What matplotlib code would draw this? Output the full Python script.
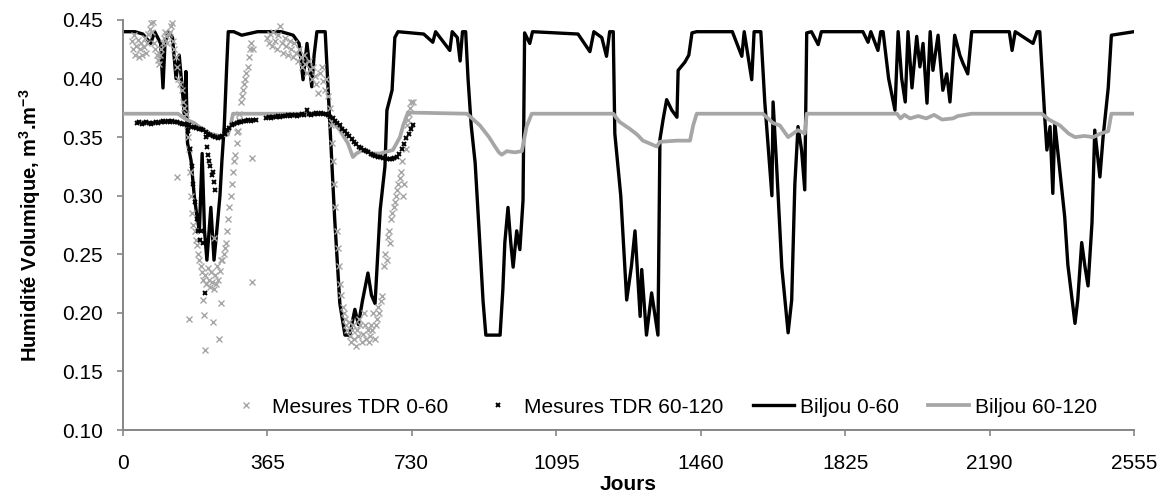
import numpy as np
import matplotlib
matplotlib.use("Agg")
import matplotlib.pyplot as plt

plt.rcParams["font.family"] = ["Liberation Sans", "DejaVu Sans"]
plt.rcParams["mathtext.fontset"] = "custom"
plt.rcParams["mathtext.rm"] = "Liberation Sans"
plt.rcParams["mathtext.bf"] = "Liberation Sans:bold"

# ── Data (day, value) ────────────────────────────────────────────────────────
biljou_0_60 = [
    (0, .44), (30, .44), (50, .438), (70, .43), (80, .44), (95, .43), (101, .392),
    (106, .43), (114, .44), (125, .435), (134, .40), (142, .42), (150, .39),
    (155, .37), (159, .406), (163, .345), (172, .33), (180, .30), (187, .282),
    (193, .27), (200, .336), (206, .27), (212, .245), (222, .29), (230, .245),
    (237, .27), (245, .30), (250, .33), (256, .36), (262, .41), (266, .44),
    (280, .44), (300, .437), (340, .44), (400, .44), (430, .437), (445, .43),
    (455, .399), (465, .43), (477, .393), (483, .42), (490, .44), (511, .44),
    (523, .36), (535, .28), (548, .208), (561, .181), (573, .181), (586, .203),
    (595, .19), (605, .21), (619, .234), (628, .215), (637, .208), (650, .288),
    (662, .325), (667, .373), (680, .39), (687, .435), (695, .44), (760, .438),
    (783, .431), (790, .44), (826, .424), (832, .44), (845, .435), (852, .415),
    (858, .44), (866, .44), (872, .40), (880, .36), (890, .328), (900, .27),
    (910, .21), (917, .181), (953, .181), (960, .22), (965, .26), (973, .29),
    (980, .26), (986, .239), (995, .27), (1003, .254), (1011, .296), (1015, .439),
    (1028, .43), (1035, .44), (1150, .438), (1180, .423), (1190, .44),
    (1210, .435), (1222, .419), (1230, .44), (1239, .44), (1243, .353),
    (1258, .30), (1273, .211), (1285, .24), (1294, .27), (1307, .197),
    (1311, .237), (1323, .181), (1336, .217), (1352, .181), (1357, .348),
    (1365, .365), (1374, .382), (1387, .373), (1400, .367), (1403, .407),
    (1420, .414), (1430, .42), (1438, .439), (1450, .44), (1540, .44),
    (1564, .419), (1570, .44), (1589, .399), (1595, .44), (1612, .44),
    (1622, .38), (1640, .30), (1643, .38), (1652, .325), (1665, .239),
    (1681, .183), (1690, .211), (1698, .31), (1706, .359), (1715, .339),
    (1723, .305), (1728, .439), (1740, .44), (1757, .429), (1765, .44),
    (1870, .44), (1883, .431), (1890, .44), (1908, .424), (1915, .44),
    (1921, .44), (1935, .40), (1951, .373), (1959, .44), (1968, .40),
    (1977, .38), (1984, .44), (1994, .392), (2006, .436), (2014, .41),
    (2022, .43), (2032, .379), (2040, .44), (2047, .407), (2060, .437),
    (2072, .39), (2082, .404), (2090, .38), (2102, .437), (2115, .42),
    (2123, .413), (2135, .404), (2145, .44), (2240, .44), (2247, .424),
    (2255, .44), (2300, .43), (2310, .44), (2317, .44), (2330, .365),
    (2335, .339), (2343, .359), (2350, .302), (2355, .362), (2368, .32),
    (2380, .282), (2388, .241), (2406, .191), (2413, .211), (2423, .26),
    (2431, .24), (2439, .223), (2449, .277), (2456, .356), (2469, .316),
    (2477, .35), (2490, .392), (2498, .437), (2555, .44),
]

biljou_60_120 = [
    (0, .37), (139, .37), (160, .365), (180, .362), (200, .357), (220, .353),
    (245, .351), (265, .352), (272, .36), (278, .37), (515, .37), (530, .363),
    (548, .356), (568, .345), (581, .333), (590, .336), (606, .339), (630, .336),
    (649, .336), (682, .339), (700, .35), (708, .36), (720, .371), (869, .37),
    (902, .36), (925, .35), (940, .342), (950, .337), (957, .335), (970, .338),
    (990, .337), (1008, .338), (1020, .359), (1033, .37), (1239, .37),
    (1255, .363), (1281, .357), (1300, .352), (1314, .347), (1349, .342),
    (1357, .346), (1400, .347), (1433, .347), (1441, .36), (1450, .37),
    (1617, .37), (1643, .362), (1660, .36), (1681, .35), (1706, .356),
    (1723, .353), (1728, .37), (1956, .37), (1965, .366), (1975, .369),
    (1989, .366), (2010, .368), (2030, .366), (2050, .369), (2070, .365),
    (2098, .366), (2110, .368), (2145, .37), (2322, .37), (2340, .365),
    (2368, .36), (2390, .353), (2406, .35), (2430, .351), (2452, .35),
    (2470, .353), (2490, .355), (2498, .37), (2555, .37),
]

tdr_0_60 = [
    (22, .432), (25, .425), (28, .437), (31, .42), (34, .428), (37, .433),
    (40, .418), (43, .425), (46, .43), (49, .42), (52, .427), (55, .435),
    (58, .422), (61, .43), (64, .438), (67, .442), (70, .447), (73, .44),
    (76, .448), (79, .43), (82, .425), (85, .42), (88, .416), (91, .412),
    (94, .42), (97, .425), (100, .43), (103, .435), (106, .44), (109, .436),
    (112, .43), (115, .438), (118, .44), (121, .445), (124, .447), (127, .432),
    (130, .425), (133, .418), (136, .316), (136, .41), (140, .40), (144, .395),
    (148, .39), (152, .38), (155, .375), (158, .37), (161, .36), (164, .35),
    (166, .34), (167, .195), (169, .32), (172, .30), (175, .285), (178, .275),
    (181, .27), (184, .262), (187, .258), (190, .25), (193, .245), (196, .24),
    (199, .235), (202, .228), (203, .211), (205, .198), (207, .168), (208, .232),
    (211, .225), (214, .238), (217, .228), (220, .222), (223, .235), (226, .226),
    (227, .192), (229, .22), (230, .264), (232, .232), (235, .225), (238, .24),
    (241, .228), (243, .178), (244, .236), (247, .208), (248, .245), (251, .245),
    (254, .25), (257, .255), (260, .26), (263, .27), (266, .28), (269, .29),
    (272, .30), (275, .31), (278, .32), (281, .33), (284, .335), (287, .345),
    (288, .354), (290, .355), (292, .365), (294, .37), (297, .38), (300, .385),
    (303, .39), (306, .395), (309, .40), (312, .405), (315, .41), (318, .418),
    (321, .425), (324, .43), (325, .332), (327, .226), (328, .425),
    (365, .435), (368, .43), (372, .438), (376, .428), (380, .44), (384, .432),
    (388, .425), (392, .437), (397, .445), (401, .43), (405, .422), (409, .435),
    (413, .428), (417, .42), (421, .432), (425, .425), (429, .418), (433, .43),
    (437, .422), (441, .415), (445, .425), (449, .418), (453, .41), (457, .42),
    (461, .412), (465, .405), (469, .415), (473, .408), (477, .40), (481, .41),
    (485, .402), (489, .395), (494, .388), (498, .405), (502, .41), (506, .398),
    (510, .39), (514, .40), (518, .385), (522, .375), (525, .36), (528, .345),
    (531, .33), (534, .31), (537, .29), (540, .27), (543, .255), (546, .24),
    (549, .225), (552, .215), (555, .205), (558, .20), (561, .195), (564, .19),
    (567, .185), (570, .192), (573, .18), (576, .175), (579, .185), (582, .19),
    (585, .178), (588, .172), (591, .185), (594, .18), (597, .195), (600, .19),
    (603, .175), (606, .182), (609, .20), (612, .19), (615, .178), (618, .185),
    (621, .175), (624, .18), (627, .19), (630, .185), (633, .20), (636, .178),
    (639, .19), (642, .195), (645, .205), (648, .20), (651, .21), (655, .214),
    (660, .24), (663, .25), (666, .245), (669, .265), (672, .27), (675, .26),
    (678, .28), (681, .285), (684, .29), (687, .295), (690, .30), (693, .305),
    (696, .31), (699, .315), (702, .32), (705, .33), (708, .30), (711, .31),
    (714, .34), (717, .36), (720, .365), (723, .37), (726, .375), (729, .38),
    (732, .38),
]

tdr_60_120 = [
    (35, .362), (41, .363), (47, .361), (53, .362), (59, .363), (65, .362),
    (71, .361), (77, .362), (83, .363), (89, .362), (95, .363), (101, .364),
    (107, .363), (113, .364), (119, .363), (125, .364), (131, .363), (137, .363),
    (143, .362), (149, .361), (155, .361), (161, .360), (167, .360), (173, .359),
    (179, .359), (185, .358), (191, .357), (197, .357), (203, .356), (209, .354),
    (215, .353), (221, .352), (227, .351), (233, .350), (239, .349), (245, .350),
    (251, .351), (257, .353), (263, .356), (269, .358), (275, .360), (281, .361),
    (287, .362), (293, .363), (299, .363), (305, .364), (311, .364), (317, .365),
    (323, .364), (329, .365), (335, .365),
    (165, .355), (170, .34), (174, .325), (178, .31), (182, .295), (186, .28),
    (190, .27), (194, .262), (198, .27), (202, .26), (207, .217), (210, .35),
    (212, .342), (215, .335), (218, .33), (221, .325), (224, .318), (227, .32),
    (230, .312), (233, .305),
    (362, .366), (368, .367), (374, .366), (380, .367), (386, .367), (392, .368),
    (398, .367), (404, .368), (410, .368), (416, .369), (422, .368), (428, .369),
    (434, .369), (440, .368), (446, .369), (452, .37), (458, .369), (465, .373),
    (470, .37), (476, .369), (482, .37), (488, .371), (494, .37), (500, .371),
    (506, .37), (512, .37), (518, .369), (524, .367), (530, .366), (536, .364),
    (542, .362), (548, .36), (554, .357), (560, .355), (566, .353), (572, .351),
    (578, .348), (584, .346), (590, .344), (596, .342), (602, .341), (608, .339),
    (614, .338), (620, .337), (626, .336), (632, .335), (638, .334), (644, .333),
    (650, .333), (656, .332), (662, .332), (668, .331), (674, .331), (680, .331),
    (686, .332), (692, .333), (698, .336), (704, .34), (710, .344), (716, .349),
    (722, .353), (728, .357), (733, .36),
]

xticks = [0, 365, 730, 1095, 1460, 1825, 2190, 2555]
yticks = [0.10, 0.15, 0.20, 0.25, 0.30, 0.35, 0.40, 0.45]

GRAY = "#a6a6a6"
AXC = "#868686"

b1 = np.array(biljou_0_60)
b2 = np.array(biljou_60_120)
t1 = np.array(tdr_0_60)
t2 = np.array(tdr_60_120)

fig = plt.figure(figsize=(11.66, 4.97), dpi=100)
ax = fig.add_axes([0.1055, 0.1348, 0.867, 0.825])

ax.plot(t1[:, 0], t1[:, 1], ls="none", marker="x", ms=5, mew=1.0,
        color=GRAY, label="Mesures TDR 0-60", zorder=4)
ax.plot(t2[:, 0], t2[:, 1], ls="none", marker="x", ms=3.2, mew=1.4,
        color="black", label="Mesures TDR 60-120", zorder=4)
ax.plot(b1[:, 0], b1[:, 1], color="black", lw=2.4, solid_joinstyle="round",
        label="Biljou 0-60", zorder=2)
ax.plot(b2[:, 0], b2[:, 1], color=GRAY, lw=2.7, solid_joinstyle="round",
        label="Biljou 60-120", zorder=3)

ax.set_xlim(0, 2555)
ax.set_ylim(0.10, 0.45)
ax.set_xticks(xticks)
ax.set_yticks(yticks)
ax.set_yticklabels([f"{v:.2f}" for v in yticks])
ax.tick_params(axis="x", direction="out", length=4.5, width=1.2, color=AXC,
               labelsize=15, pad=13)
ax.tick_params(axis="y", direction="out", length=4.5, width=1.2, color=AXC,
               labelsize=15, pad=10)
for s in ["top", "right"]:
    ax.spines[s].set_visible(False)
for s in ["left", "bottom"]:
    ax.spines[s].set_color(AXC)
    ax.spines[s].set_linewidth(1.4)

ax.set_xlabel("Jours", fontsize=15, fontweight="bold", labelpad=1)
ax.set_ylabel(r"Humidité Volumique, m$^{\mathbf{3}}$.m$^{\mathbf{-3}}$",
              fontsize=14.5, fontweight="bold", labelpad=14)

ax.legend(loc="center", bbox_to_anchor=(0.532, 0.056), ncol=4, frameon=False,
          fontsize=15, handlelength=2.0, handletextpad=0.25, columnspacing=1.4,
          borderpad=0, borderaxespad=0)

fig.savefig("out.png", dpi=100)
